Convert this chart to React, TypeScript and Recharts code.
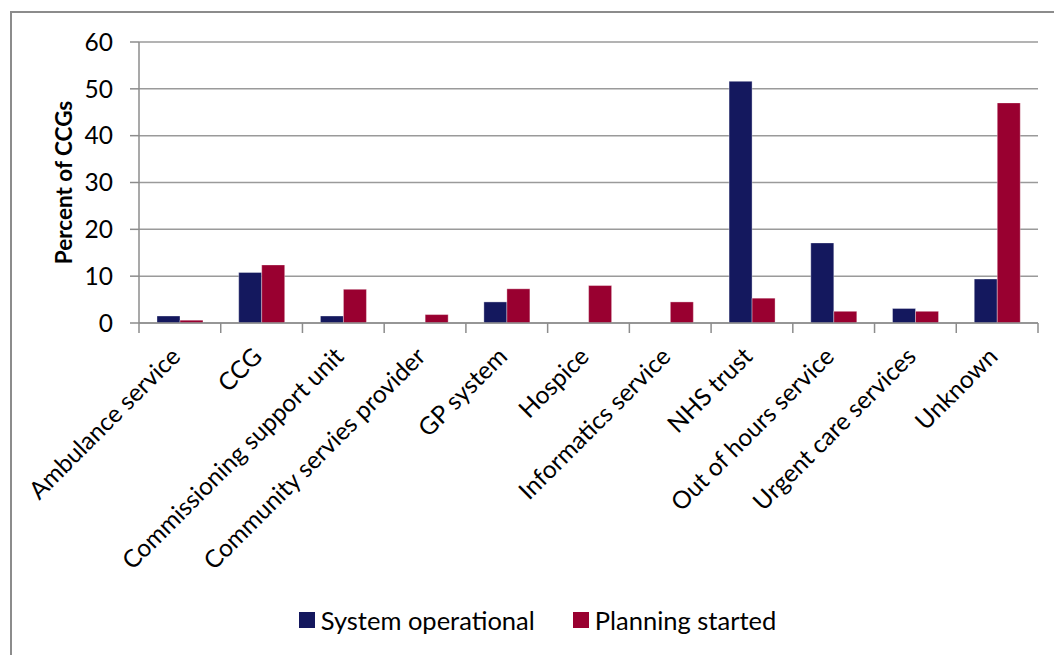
import React from 'react';
import { BarChart, Bar, XAxis, YAxis, CartesianGrid, Legend } from 'recharts';

const CATEGORIES = [
  'Ambulance service',
  'CCG',
  'Commissioning support unit',
  'Community servies provider',
  'GP system',
  'Hospice',
  'Informatics service',
  'NHS trust',
  'Out of hours service',
  'Urgent care services',
  'Unknown',
];
const SYSTEM_OPERATIONAL = [1.5, 10.8, 1.5, 0, 4.5, 0, 0, 51.6, 17.1, 3.1, 9.4];
const PLANNING_STARTED = [0.6, 12.4, 7.2, 1.8, 7.3, 8.0, 4.5, 5.3, 2.5, 2.5, 47.0];
const Y_TICKS = [0, 10, 20, 30, 40, 50, 60];

const SERIES = [
  { key: 'operational', name: 'System operational', color: '#14185E' },
  { key: 'planning', name: 'Planning started', color: '#990030' },
];

const data = CATEGORIES.map((c, i) => ({
  category: c,
  operational: SYSTEM_OPERATIONAL[i],
  planning: PLANNING_STARTED[i],
}));

const W = 1054;
const H = 655;
const MARGIN = { top: 42, right: 16, left: 79, bottom: 20 };
const YAXIS_W = 60;
const LEGEND_H = 30;
const XAXIS_H = H - 323 - MARGIN.bottom - LEGEND_H;
const PLOT_W = W - MARGIN.left - MARGIN.right - YAXIS_W;
const HALF_BAND = PLOT_W / CATEGORIES.length / 2;

const FONT = 'Lato, "Open Sans", sans-serif';
const AXIS_COLOR = '#8c8c8c';

const CatTick = (props: any) => {
  const { x, y, payload, index } = props;
  const last = index === CATEGORIES.length - 1;
  return (
    <g>
      <line x1={x - HALF_BAND} x2={x - HALF_BAND} y1={y} y2={y + 10} stroke={AXIS_COLOR} strokeWidth={1.5} />
      {last && (
        <line x1={x + HALF_BAND} x2={x + HALF_BAND} y1={y} y2={y + 10} stroke={AXIS_COLOR} strokeWidth={1.5} />
      )}
      <text
        transform={`translate(${x + 2},${y + 35}) rotate(-45)`}
        textAnchor="end"
        fontSize={24.5}
        fontFamily={FONT}
        fill="#000"
      >
        {payload.value}
      </text>
    </g>
  );
};

const YLabel = (props: any) => {
  const vb = props.viewBox || {};
  const cy = vb.y + vb.height / 2;
  const cx = 63;
  return (
    <text
      transform={`translate(${cx},${cy}) rotate(-90)`}
      textAnchor="middle"
      dominantBaseline="central"
      fontSize={22.5}
      fontWeight="bold"
      fontFamily={FONT}
      fill="#000"
    >
      Percent of CCGs
    </text>
  );
};

const LegendContent = () => (
  <div
    style={{
      display: 'flex',
      justifyContent: 'center',
      alignItems: 'center',
      height: LEGEND_H,
      fontFamily: FONT,
      fontSize: 25.5,
      color: '#000',
      paddingRight: 42,
    }}
  >
    {SERIES.map((s, i) => (
      <div key={s.key} style={{ display: 'flex', alignItems: 'center', marginLeft: i === 0 ? 0 : 38 }}>
        <div style={{ width: 16, height: 16, background: s.color, marginRight: 6 }} />
        <span>{s.name}</span>
      </div>
    ))}
  </div>
);

export default function App() {
  return (
    <div style={{ position: 'fixed', left: 0, top: 0, width: W, height: H, background: '#fff', overflow: 'hidden' }}>
      <div
        style={{
          position: 'absolute',
          left: 10,
          top: 11,
          width: 1200,
          height: 800,
          borderTop: `2px solid ${AXIS_COLOR}`,
          borderLeft: `2px solid ${AXIS_COLOR}`,
        }}
      />
      <div style={{ position: 'absolute', left: 0, top: 0 }}>
        <BarChart
          width={W}
          height={H}
          data={data}
          margin={MARGIN}
          barCategoryGap="22%"
          barGap={0}
        >
          <CartesianGrid vertical={false} stroke="#9a9a9a" strokeWidth={1.5} />
          <XAxis
            dataKey="category"
            interval={0}
            height={XAXIS_H}
            tickLine={false}
            tickSize={0}
            tickMargin={0}
            axisLine={{ stroke: AXIS_COLOR, strokeWidth: 1.5 }}
            tick={<CatTick />}
          />
          <YAxis
            width={YAXIS_W}
            domain={[0, 60]}
            ticks={Y_TICKS}
            interval={0}
            tickSize={9}
            tickMargin={17}
            tickLine={{ stroke: AXIS_COLOR, strokeWidth: 1.5 }}
            axisLine={{ stroke: AXIS_COLOR, strokeWidth: 1.5 }}
            tick={{ fontSize: 24.5, fontFamily: FONT, fill: '#000' }}
            label={<YLabel />}
          />
          <Legend verticalAlign="bottom" height={LEGEND_H} content={<LegendContent />} />
          {SERIES.map((s) => (
            <Bar
              key={s.key}
              dataKey={s.key}
              name={s.name}
              fill={s.color}
              stroke="#ffffff"
              strokeOpacity={0.35}
              strokeWidth={1}
              isAnimationActive={false}
            />
          ))}
        </BarChart>
      </div>
    </div>
  );
}
